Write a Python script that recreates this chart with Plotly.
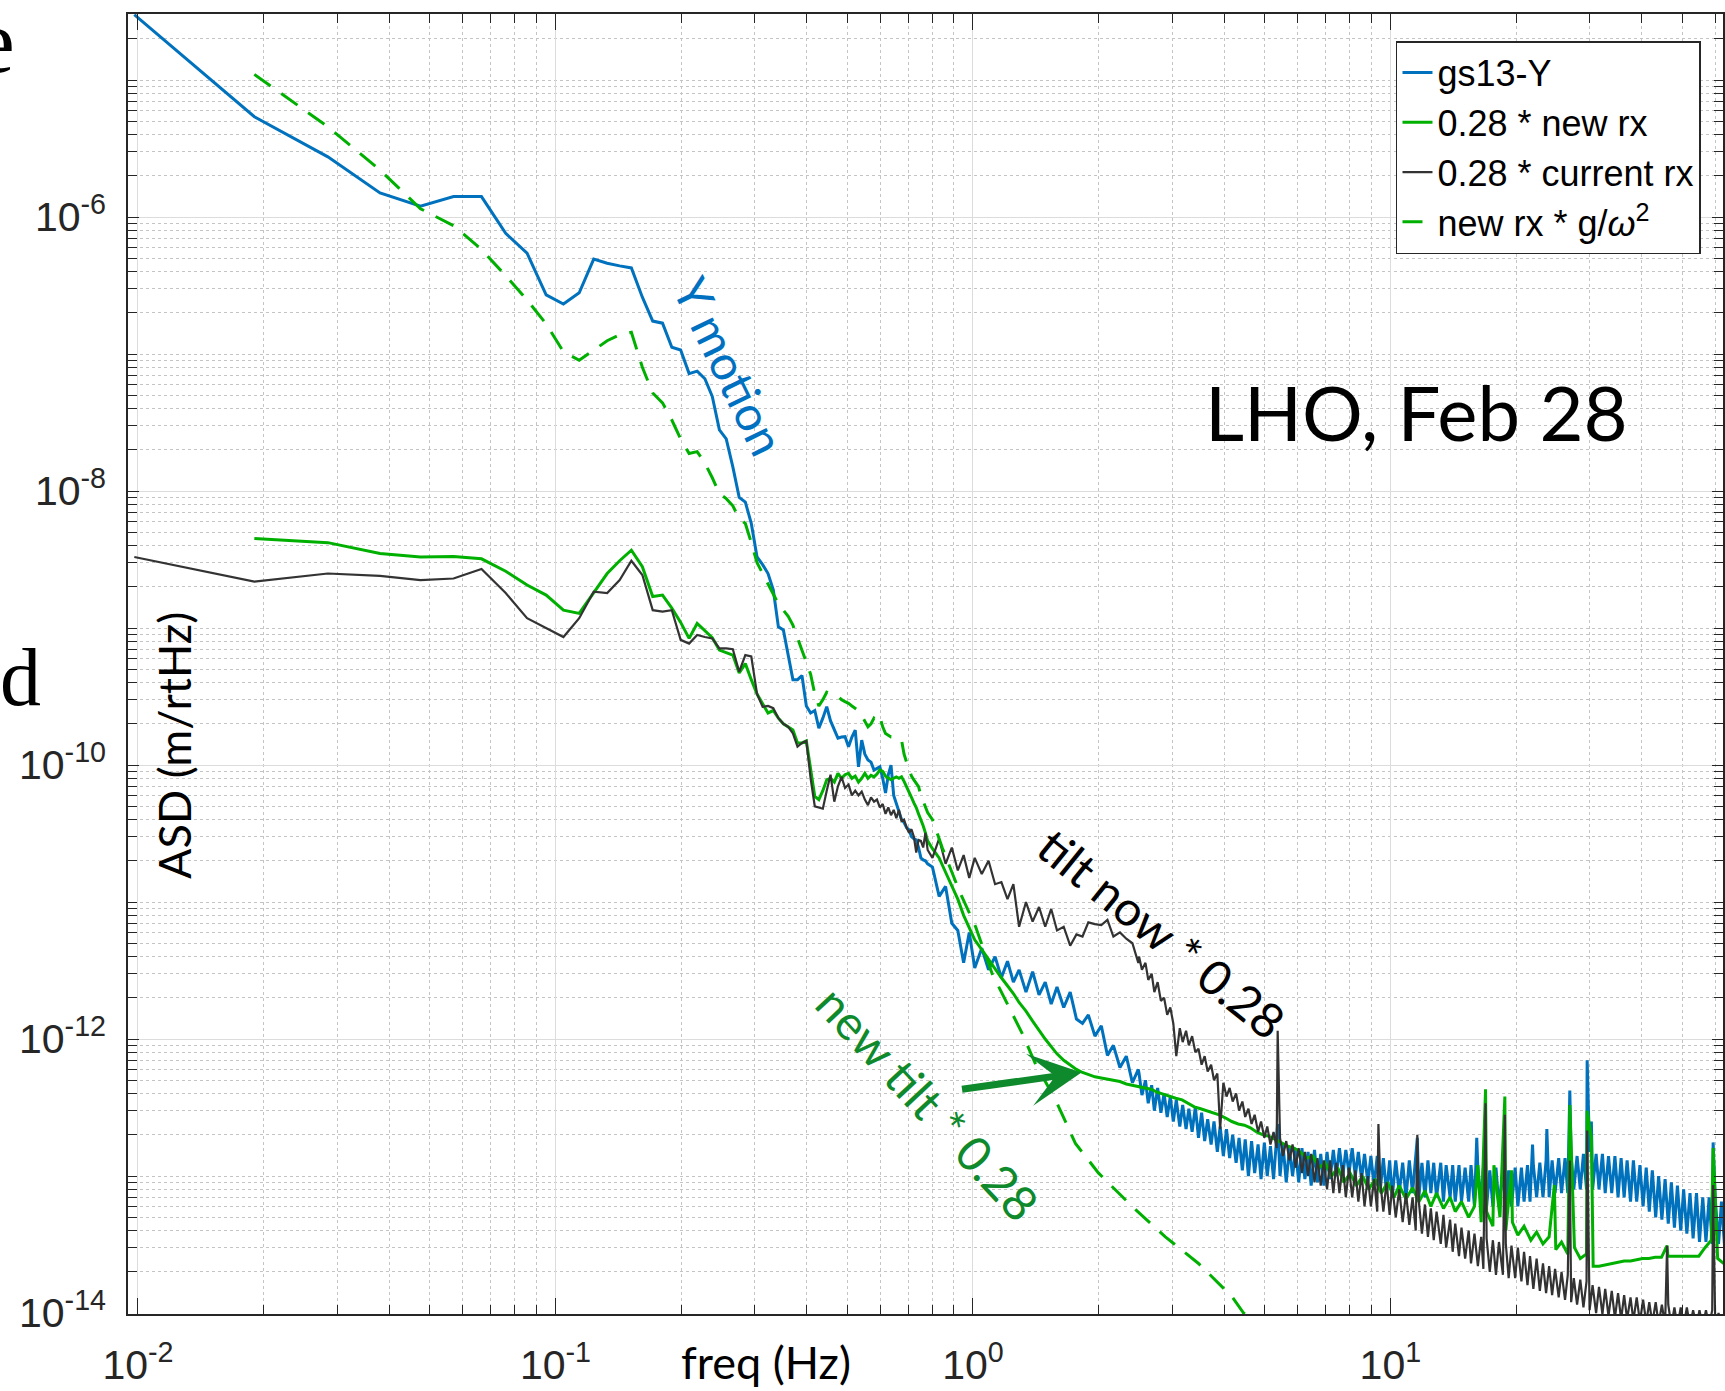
import plotly.graph_objects as go

# ---------------- data ----------------
# low-frequency bins (Hz)
F_LO = [0.0098, 0.019, 0.0285, 0.038, 0.0475, 0.057, 0.0665, 0.076, 0.0855, 0.095,
        0.1045, 0.114, 0.1235, 0.133, 0.1425, 0.152, 0.1615, 0.171, 0.1805, 0.19,
        0.1995, 0.209, 0.2185, 0.228, 0.2375, 0.247, 0.2565, 0.266, 0.2755, 0.285,
        0.2945, 0.304, 0.3135, 0.323, 0.3325, 0.342, 0.3515, 0.361, 0.3705, 0.38,
        0.3895, 0.399, 0.4085, 0.418, 0.4275, 0.437, 0.4465, 0.456, 0.4655, 0.475,
        0.4845, 0.494, 0.5035, 0.513, 0.5225, 0.532, 0.5415, 0.551, 0.5605, 0.57,
        0.5795, 0.589, 0.5985, 0.608, 0.6175, 0.627, 0.6365, 0.646, 0.6555, 0.665,
        0.6745, 0.684, 0.6935, 0.703, 0.7125, 0.722, 0.7315, 0.741, 0.7505, 0.76,
        0.7695, 0.779]

# mid band (Hz), shared by the three measured curves
F_MID = [0.80, 0.83, 0.86, 0.89, 0.92, 0.95, 0.98, 1.01, 1.05, 1.09,
         1.13, 1.17, 1.21, 1.25, 1.29, 1.34, 1.39, 1.44, 1.49, 1.54,
         1.59, 1.65, 1.71, 1.77, 1.83, 1.89, 1.96, 2.03, 2.10, 2.17,
         2.25, 2.33, 2.41, 2.49]

# high band (Hz) for the new-rx curve
F_HI_G = [2.58, 2.67, 2.76, 2.86, 2.96, 3.06,
          3.17, 3.28, 3.39, 3.51, 3.63, 3.76, 3.89, 4.03, 4.17, 4.32,
          4.47, 4.62, 4.78, 4.95, 5.12, 5.30, 5.49, 5.68, 5.88, 6.08,
          6.30, 6.52, 6.75, 6.98, 7.23, 7.48, 7.74, 8.01, 8.29, 8.58,
          8.88, 9.19, 9.51, 9.85, 10.2, 10.5, 10.9, 11.3, 11.7, 12.1,
          12.5, 12.9, 13.4, 13.9, 14.3, 14.8, 15.4, 15.9, 16.5, 17.0,
          17.6, 18.3, 18.9, 19.6, 20.2, 20.9, 21.7, 22.4, 23.2, 24.0,
          24.9, 25.7, 26.6, 27.6, 28.5, 29.5, 30.6, 31.6, 32.7, 33.9,
          35.1, 36.3, 37.6, 38.9, 40.2, 41.6, 43.1, 44.6, 46.2, 47.8,
          49.4, 51.2, 53.0, 54.8, 56.7, 58.7, 60.8, 62.9]

# dense noisy band (Hz) for gs13-Y and current rx
F_NZ = [2.50, 2.54, 2.59, 2.63, 2.68, 2.72, 2.77, 2.82, 2.87, 2.92,
        2.97, 3.02, 3.07, 3.13, 3.18, 3.24, 3.29, 3.35, 3.41, 3.47,
        3.53, 3.59, 3.65, 3.72, 3.78, 3.85, 3.91, 3.98, 4.05, 4.12,
        4.19, 4.27, 4.34, 4.42, 4.49, 4.57, 4.65, 4.73, 4.82, 4.90,
        4.99, 5.07, 5.16, 5.25, 5.34, 5.44, 5.53, 5.63, 5.73, 5.83,
        5.93, 6.03, 6.14, 6.24, 6.35, 6.46, 6.58, 6.69, 6.81, 6.93,
        7.05, 7.17, 7.30, 7.42, 7.55, 7.69, 7.82, 7.96, 8.10, 8.24,
        8.38, 8.53, 8.67, 8.83, 8.98, 9.14, 9.30, 9.46, 9.62, 9.79,
        9.96, 10.1, 10.3, 10.5, 10.7, 10.9, 11.1, 11.3, 11.5, 11.7,
        11.9, 12.1, 12.3, 12.5, 12.7, 12.9, 13.2, 13.4, 13.6, 13.9,
        14.1, 14.3, 14.6, 14.8, 15.1, 15.4, 15.6, 15.9, 16.2, 16.5,
        16.7, 17.0, 17.3, 17.6, 17.9, 18.2, 18.6, 18.9, 19.2, 19.5,
        19.9, 20.2, 20.6, 20.9, 21.3, 21.6, 22.0, 22.4, 22.8, 23.2,
        23.6, 24.0, 24.4, 24.8, 25.3, 25.7, 26.2, 26.6, 27.1, 27.5,
        28.0, 28.5, 29.0, 29.5, 30.0, 30.5, 31.1, 31.6, 32.2, 32.7,
        33.3, 33.9, 34.5, 35.1, 35.7, 36.3, 36.9, 37.6, 38.2, 38.9,
        39.6, 40.3, 41.0, 41.7, 42.4, 43.2, 43.9, 44.7, 45.5, 46.3,
        47.1, 47.9, 48.7, 49.6, 50.4, 51.3, 52.2, 53.1, 54.1, 55.0,
        56.0, 57.0, 58.0, 59.0, 60.0, 61.1, 62.1, 63.2]

# gs13-Y
BLUE_LO = [3.0e-5, 5.4e-6, 2.75e-6, 1.5e-6, 1.2e-6, 1.41e-6, 1.41e-6, 7.6e-7, 5.45e-7, 2.7e-7,
           2.32e-7, 2.8e-7, 4.93e-7, 4.6e-7, 4.4e-7, 4.25e-7, 2.6e-7, 1.74e-7, 1.68e-7, 1.12e-7,
           1.07e-7, 7.2e-8, 7.5e-8, 6.6e-8, 4.9e-8, 2.8e-8, 2.4e-8, 1.5e-8, 9.0e-9, 8.3e-9,
           5.8e-9, 3.3e-9, 2.9e-9, 2.5e-9, 1.9e-9, 1.02e-9, 9.7e-10, 6.5e-10, 4.2e-10, 4.2e-10,
           4.5e-10, 2.7e-10, 2.4e-10, 2.5e-10, 1.86e-10, 2.2e-10, 2.67e-10, 2.1e-10, 1.8e-10, 1.57e-10,
           1.6e-10, 1.61e-10, 1.36e-10, 1.6e-10, 1.8e-10, 9.7e-11, 1.52e-10, 1.2e-10, 1.09e-10, 1.05e-10,
           9.2e-11, 9.5e-11, 9.7e-11, 8.0e-11, 6.25e-11, 8.5e-11, 1.0e-10, 6.0e-11, 5.2e-11, 4.47e-11,
           4.0e-11, 3.8e-11, 3.5e-11, 3.36e-11, 3.0e-11, 2.9e-11, 2.84e-11, 2.5e-11, 2.1e-11, 2.03e-11,
           2.0e-11, 1.9e-11]
BLUE_MID = [1.8e-11, 1.1e-11, 1.3e-11, 7.0e-12, 6.2e-12, 3.6e-12, 6.0e-12, 3.3e-12, 4.6e-12, 3.2e-12,
            4.0e-12, 2.8e-12, 3.7e-12, 2.6e-12, 3.2e-12, 2.2e-12, 3.1e-12, 2.1e-12, 2.6e-12, 1.8e-12,
            2.4e-12, 1.7e-12, 2.2e-12, 1.4e-12, 1.3e-12, 1.5e-12, 1.05e-12, 1.25e-12, 7.6e-13, 9.0e-13,
            6.2e-13, 7.5e-13, 4.8e-13, 6.0e-13]
BLUE_NZ = [5.6e-13, 3.9e-13, 5.0e-13, 3.4e-13, 4.6e-13, 3.0e-13, 4.4e-13, 2.9e-13, 4.0e-13, 2.7e-13,
           3.8e-13, 2.5e-13, 3.6e-13, 2.3e-13, 3.3e-13, 2.2e-13, 3.1e-13, 2.1e-13, 3.2e-13, 1.9e-13,
           2.9e-13, 1.8e-13, 2.6e-13, 1.7e-13, 2.5e-13, 1.5e-13, 2.3e-13, 1.4e-13, 2.2e-13, 1.35e-13,
           2.0e-13, 1.25e-13, 1.9e-13, 1.1e-13, 1.85e-13, 1.0e-13, 1.8e-13, 1.05e-13, 1.7e-13, 9.5e-14,
           1.75e-13, 1.0e-13, 1.65e-13, 9.5e-14, 1.8e-13, 1.0e-13, 1.7e-13, 9.0e-14, 1.6e-13, 1.0e-13,
           1.55e-13, 9.0e-14, 1.6e-13, 9.5e-14, 1.5e-13, 8.5e-14, 1.55e-13, 9.0e-14, 1.45e-13, 8.5e-14,
           1.5e-13, 9.5e-14, 1.55e-13, 1.0e-13, 1.6e-13, 1.0e-13, 1.55e-13, 1.05e-13, 1.6e-13, 1.0e-13,
           1.5e-13, 9.5e-14, 1.45e-13, 9.0e-14, 1.4e-13, 8.5e-14, 1.4e-13, 8.0e-14, 1.35e-13, 7.5e-14,
           1.3e-13, 7.0e-14, 1.3e-13, 7.5e-14, 1.25e-13, 7.0e-14, 1.3e-13, 7.5e-14, 1.3e-13, 7.0e-14,
           1.25e-13, 7.0e-14, 1.3e-13, 7.5e-14, 1.25e-13, 7.0e-14, 1.25e-13, 6.5e-14, 1.2e-13, 7.0e-14,
           1.2e-13, 6.5e-14, 1.2e-13, 6.5e-14, 1.15e-13, 6.5e-14, 1.2e-13, 6.0e-14, 1.15e-13, 6.5e-14,
           1.15e-13, 6.0e-14, 1.1e-13, 6.0e-14, 1.15e-13, 6.0e-14, 1.1e-13, 5.8e-14, 1.1e-13, 6.0e-14,
           1.15e-13, 6.0e-14, 1.15e-13, 6.5e-14, 1.2e-13, 6.5e-14, 1.2e-13, 7.0e-14, 1.25e-13, 7.0e-14,
           1.3e-13, 7.0e-14, 1.3e-13, 7.5e-14, 1.35e-13, 7.5e-14, 1.35e-13, 7.5e-14, 1.4e-13, 8.0e-14,
           1.4e-13, 8.0e-14, 1.45e-13, 8.0e-14, 1.5e-13, 8.0e-14, 1.45e-13, 8.0e-14, 1.45e-13, 7.5e-14,
           1.4e-13, 7.5e-14, 1.4e-13, 7.0e-14, 1.35e-13, 7.0e-14, 1.3e-13, 6.5e-14, 1.3e-13, 6.5e-14,
           1.2e-13, 6.0e-14, 1.15e-13, 5.5e-14, 1.1e-13, 5.0e-14, 1.0e-13, 4.8e-14, 9.5e-14, 4.5e-14,
           9.0e-14, 4.2e-14, 8.5e-14, 4.0e-14, 8.0e-14, 3.8e-14, 7.5e-14, 3.5e-14, 7.5e-14, 3.3e-14,
           7.0e-14, 3.3e-14, 7.0e-14, 3.2e-14, 6.8e-14, 3.2e-14, 6.5e-14, 3.0e-14]
BLUE_SPIKE_F = [5.37, 11.6, 16.1, 21.9, 23.7, 26.9, 29.6, 30.3, 59.3]
BLUE_SPIKE_V = [2.4e-13, 1.9e-13, 1.9e-13, 1.7e-13, 2.2e-13, 4.2e-13, 7.0e-13, 2.5e-13, 1.76e-13]

# 0.28 * new rx
GREEN_LO = [4.5e-9, 4.2e-9, 3.5e-9, 3.3e-9, 3.33e-9, 3.2e-9, 2.6e-9, 2.06e-9, 1.74e-9,
            1.35e-9, 1.28e-9, 1.8e-9, 2.5e-9, 3.1e-9, 3.7e-9, 2.8e-9, 1.7e-9, 1.74e-9, 1.4e-9,
            1.1e-9, 8.4e-10, 1.08e-9, 9.5e-10, 8.5e-10, 6.9e-10, 6.6e-10, 6.35e-10, 4.7e-10, 5.5e-10,
            4.2e-10, 3.3e-10, 2.8e-10, 2.4e-10, 2.5e-10, 2.2e-10, 2.0e-10, 1.9e-10, 1.8e-10, 1.45e-10,
            1.45e-10, 1.5e-10, 9.0e-11, 5.9e-11, 5.6e-11, 6.5e-11, 7.8e-11, 8.0e-11, 7.5e-11, 8.7e-11,
            8.0e-11, 8.5e-11, 8.7e-11, 8.0e-11, 8.3e-11, 7.5e-11, 8.0e-11, 8.7e-11, 8.0e-11, 8.4e-11,
            8.2e-11, 8.6e-11, 9.2e-11, 9.0e-11, 8.3e-11, 8.0e-11, 7.8e-11, 8.0e-11, 8.2e-11, 8.0e-11,
            8.2e-11, 7.6e-11, 7.0e-11, 6.4e-11, 5.8e-11, 5.3e-11, 4.9e-11, 4.4e-11, 4.0e-11, 3.6e-11,
            3.2e-11, 2.8e-11]
GREEN_MID = [2.45e-11, 2.1e-11, 1.65e-11, 1.3e-11, 1.05e-11, 8.0e-12, 6.5e-12, 5.3e-12, 4.5e-12, 3.8e-12,
             3.3e-12, 2.8e-12, 2.45e-12, 2.15e-12, 1.85e-12, 1.6e-12, 1.35e-12, 1.15e-12, 1.0e-12, 8.8e-13,
             7.8e-13, 7.0e-13, 6.5e-13, 6.0e-13, 5.7e-13, 5.5e-13, 5.3e-13, 5.2e-13, 5.1e-13, 5.0e-13,
             4.9e-13, 4.7e-13, 4.6e-13, 4.5e-13]
GREEN_HI = [4.4e-13, 4.3e-13, 4.1e-13, 3.95e-13, 3.8e-13, 3.7e-13,
            3.6e-13, 3.4e-13, 3.2e-13, 3.1e-13, 3.0e-13, 2.9e-13, 2.8e-13, 2.65e-13, 2.5e-13, 2.4e-13,
            2.35e-13, 2.25e-13, 2.1e-13, 2.0e-13, 1.95e-13, 1.85e-13, 1.75e-13, 1.65e-13, 1.6e-13, 1.5e-13,
            1.35e-13, 1.4e-13, 1.15e-13, 1.25e-13, 1.0e-13, 1.15e-13, 9.0e-14, 1.05e-13, 8.5e-14, 1.0e-13,
            8.0e-14, 9.5e-14, 7.5e-14, 9.0e-14, 7.0e-14, 8.5e-14, 6.8e-14, 8.2e-14, 6.5e-14, 7.8e-14,
            6.0e-14, 7.5e-14, 5.8e-14, 7.0e-14, 5.5e-14, 6.5e-14, 5.0e-14, 6.0e-14, 4.6e-14, 5.5e-14,
            4.3e-14, 5.0e-14, 4.0e-14, 4.6e-14, 3.7e-14, 4.3e-14, 3.4e-14, 3.9e-14, 3.2e-14, 3.6e-14,
            2.9e-14, 3.3e-14, 2.7e-14, 3.0e-14, 2.5e-14, 2.7e-14, 2.2e-14, 2.2e-14, 2.25e-14, 2.3e-14,
            2.35e-14, 2.4e-14, 2.4e-14, 2.45e-14, 2.5e-14, 2.5e-14, 2.55e-14, 2.55e-14, 2.6e-14, 2.6e-14,
            2.6e-14, 2.6e-14, 2.6e-14, 2.6e-14, 3.0e-14, 3.4e-14, 2.5e-14, 2.3e-14]
GREEN_SPIKE_F = [16.2, 16.9, 17.7, 18.8, 19.5, 24.7, 26.9, 29.6, 30.3, 46.0, 59.3]
GREEN_SPIKE_V = [1.2e-13, 4.3e-13, 1.2e-13, 3.8e-13, 1.1e-13, 8.6e-14, 3.3e-13, 3.0e-13, 1.9e-13, 3.1e-14, 1.6e-13]

# 0.28 * current rx
BLACK_LO = [3.3e-9, 2.18e-9, 2.5e-9, 2.4e-9, 2.24e-9, 2.3e-9, 2.7e-9, 1.8e-9, 1.18e-9, 1.0e-9,
            8.6e-10, 1.18e-9, 1.84e-9, 1.8e-9, 2.24e-9, 3.1e-9, 2.44e-9, 1.35e-9, 1.32e-9, 1.35e-9,
            8.2e-10, 7.7e-10, 8.9e-10, 8.6e-10, 8.4e-10, 7.1e-10, 7.1e-10, 7.0e-10, 4.8e-10, 6.35e-10,
            6.2e-10, 3.3e-10, 2.66e-10, 2.7e-10, 2.6e-10, 2.2e-10, 2.0e-10, 1.9e-10, 1.7e-10, 1.36e-10,
            1.45e-10, 1.5e-10, 8.0e-11, 5.0e-11, 4.9e-11, 4.8e-11, 6.5e-11, 8.5e-11, 5.4e-11, 7.0e-11,
            8.2e-11, 6.8e-11, 7.2e-11, 6.0e-11, 6.5e-11, 6.0e-11, 6.4e-11, 5.6e-11, 5.1e-11, 5.8e-11,
            5.4e-11, 5.6e-11, 4.9e-11, 5.2e-11, 4.4e-11, 4.9e-11, 4.3e-11, 4.7e-11, 4.1e-11, 4.7e-11,
            3.9e-11, 4.0e-11, 3.5e-11, 3.2e-11, 3.4e-11, 3.0e-11, 2.3e-11, 2.84e-11, 2.8e-11, 2.5e-11,
            3.2e-11, 2.4e-11]
BLACK_MID = [2.1e-11, 2.9e-11, 1.9e-11, 2.5e-11, 1.7e-11, 2.2e-11, 1.5e-11, 2.1e-11, 1.6e-11, 2.0e-11,
             1.35e-11, 1.4e-11, 1.05e-11, 1.35e-11, 6.6e-12, 1.0e-11, 7.2e-12, 9.2e-12, 6.6e-12, 8.9e-12,
             6.2e-12, 6.6e-12, 4.8e-12, 5.8e-12, 5.6e-12, 7.1e-12, 6.9e-12, 6.8e-12, 7.4e-12, 5.6e-12,
             6.0e-12, 5.4e-12, 5.0e-12, 3.6e-12]
BLACK_NZ = [4.0e-12, 3.2e-12, 3.6e-12, 2.7e-12, 3.0e-12, 2.2e-12, 2.6e-12, 1.9e-12, 2.0e-12, 1.5e-12,
            1.7e-12, 1.3e-12, 7.5e-13, 1.2e-12, 9.5e-13, 1.15e-12, 9.0e-13, 1.05e-12, 8.0e-13, 8.5e-13,
            6.5e-13, 7.5e-13, 5.8e-13, 6.5e-13, 5.0e-13, 5.6e-13, 2.2e-13, 4.8e-13, 3.8e-13, 4.4e-13,
            3.5e-13, 4.0e-13, 3.0e-13, 3.5e-13, 2.7e-13, 3.1e-13, 2.4e-13, 2.8e-13, 2.1e-13, 2.5e-13,
            1.9e-13, 2.3e-13, 1.7e-13, 2.1e-13, 1.6e-13, 1.9e-13, 1.4e-13, 1.8e-13, 1.3e-13, 1.7e-13,
            1.15e-13, 1.6e-13, 1.05e-13, 1.5e-13, 1.0e-13, 1.45e-13, 9.0e-14, 1.35e-13, 8.5e-14, 1.3e-13,
            8.0e-14, 1.3e-13, 7.5e-14, 1.25e-13, 7.5e-14, 1.2e-13, 7.0e-14, 1.15e-13, 7.0e-14, 1.1e-13,
            6.5e-14, 1.05e-13, 6.0e-14, 1.0e-13, 6.0e-14, 9.5e-14, 5.5e-14, 9.0e-14, 5.5e-14, 9.0e-14,
            5.2e-14, 8.5e-14, 5.0e-14, 8.0e-14, 4.6e-14, 7.5e-14, 4.4e-14, 7.0e-14, 4.0e-14, 6.5e-14,
            3.8e-14, 6.2e-14, 3.6e-14, 5.8e-14, 3.4e-14, 5.5e-14, 3.2e-14, 5.2e-14, 3.0e-14, 4.8e-14,
            2.8e-14, 4.5e-14, 2.6e-14, 4.2e-14, 2.5e-14, 4.0e-14, 2.3e-14, 3.8e-14, 2.2e-14, 3.6e-14,
            2.1e-14, 3.5e-14, 2.0e-14, 3.4e-14, 1.9e-14, 3.3e-14, 1.9e-14, 3.2e-14, 1.8e-14, 3.1e-14,
            1.8e-14, 3.0e-14, 1.7e-14, 2.8e-14, 1.6e-14, 2.6e-14, 1.5e-14, 2.5e-14, 1.45e-14, 2.3e-14,
            1.4e-14, 2.2e-14, 1.35e-14, 2.1e-14, 1.3e-14, 2.0e-14, 1.25e-14, 1.9e-14, 1.2e-14, 1.8e-14,
            1.15e-14, 1.75e-14, 1.1e-14, 1.7e-14, 1.05e-14, 1.6e-14, 1.0e-14, 1.55e-14, 9.8e-15, 1.5e-14,
            9.5e-15, 1.45e-14, 9.2e-15, 1.4e-14, 9.0e-15, 1.35e-14, 9.0e-15, 1.3e-14, 8.8e-15, 1.3e-14,
            8.6e-15, 1.25e-14, 8.5e-15, 1.2e-14, 8.4e-15, 1.2e-14, 8.3e-15, 1.15e-14, 8.2e-15, 1.15e-14,
            8.1e-15, 1.1e-14, 8.0e-15, 1.1e-14, 8.0e-15, 1.1e-14, 8.0e-15, 1.05e-14, 8.0e-15, 1.05e-14,
            8.0e-15, 1.05e-14, 8.0e-15, 1.05e-14, 8.0e-15, 1.0e-14, 8.0e-15, 1.0e-14]
BLACK_SPIKE_F = [5.37, 9.36, 11.6, 16.9, 18.8, 26.9, 29.6, 46.0, 59.3]
BLACK_SPIKE_V = [1.15e-12, 2.4e-13, 2.0e-13, 3.4e-13, 2.8e-13, 1.3e-13, 2.15e-13, 3.1e-14, 8.6e-14]

# new rx * g/w^2 (dashed)
DASH_LO = [1.1e-5, 4.56e-6, 2.2e-6, 1.15e-6, 8.65e-7, 5.8e-7, 3.73e-7, 2.48e-7, 1.66e-7,
           1.04e-7, 9.0e-8, 1.07e-7, 1.25e-7, 1.38e-7, 1.44e-7, 8.0e-8, 5.2e-8, 4.4e-8, 3.3e-8,
           2.4e-8, 1.88e-8, 1.94e-8, 1.6e-8, 1.25e-8, 9.6e-9, 8.8e-9, 7.8e-9, 6.3e-9, 5.8e-9,
           4.2e-9, 3.0e-9, 2.5e-9, 2.1e-9, 1.8e-9, 1.5e-9, 1.35e-9, 1.22e-9, 1.05e-9, 8.5e-10,
           6.8e-10, 5.5e-10, 4.6e-10, 3.3e-10, 2.7e-10, 3.0e-10, 3.4e-10, 3.3e-10, 3.2e-10, 3.16e-10,
           3.0e-10, 2.9e-10, 2.82e-10, 2.7e-10, 2.6e-10, 2.5e-10, 2.3e-10, 2.1e-10, 1.9e-10, 2.0e-10,
           2.2e-10, 2.1e-10, 2.25e-10, 1.9e-10, 1.7e-10, 1.65e-10, 1.6e-10, 1.6e-10, 1.55e-10, 1.52e-10,
           1.52e-10, 1.2e-10, 1.05e-10, 9.2e-11, 8.3e-11, 7.8e-11, 7.3e-11, 6.95e-11, 6.0e-11, 5.5e-11,
           5.0e-11, 4.5e-11]
DASH_TAIL_F = [0.80, 0.844, 0.926, 1.015, 1.112, 1.22, 1.312, 1.41, 1.577, 1.76,
               2.0, 2.41, 2.89, 3.47, 4.17, 4.45, 5.0]
DASH_TAIL_V = [4.0e-11, 2.5e-11, 1.22e-11, 6.6e-12, 3.0e-12, 1.72e-12, 1.1e-12, 6.65e-13, 3.6e-13, 1.73e-13,
               1.05e-13, 5.97e-14, 3.6e-14, 2.3e-14, 1.32e-14, 1.0e-14, 7.5e-15]

X_TICKS = [0.01, 0.1, 1, 10]
X_TICKTEXT = ["10<sup>-2</sup>", "10<sup>-1</sup>", "10<sup>0</sup>", "10<sup>1</sup>"]
Y_TICKS = [1e-14, 1e-12, 1e-10, 1e-8, 1e-6]
Y_TICKTEXT = ["10<sup>-14</sup>", "10<sup>-12</sup>", "10<sup>-10</sup>", "10<sup>-8</sup>", "10<sup>-6</sup>"]

assert len(BLUE_LO) == len(F_LO) and len(BLACK_LO) == len(F_LO)
assert len(GREEN_LO) == len(F_LO) - 1 and len(DASH_LO) == len(F_LO) - 1
assert len(BLUE_MID) == len(F_MID) and len(GREEN_MID) == len(F_MID) and len(BLACK_MID) == len(F_MID)
assert len(GREEN_HI) == len(F_HI_G)
assert len(BLUE_NZ) == len(F_NZ) and len(BLACK_NZ) == len(F_NZ)
assert len(DASH_TAIL_F) == len(DASH_TAIL_V)


def merge(fs, vs):
    pairs = sorted(zip(fs, vs))
    return [p[0] for p in pairs], [p[1] for p in pairs]


blue_x, blue_y = merge(F_LO + F_MID + F_NZ + BLUE_SPIKE_F,
                       BLUE_LO + BLUE_MID + BLUE_NZ + BLUE_SPIKE_V)
green_x, green_y = merge(F_LO[1:] + F_MID + F_HI_G + GREEN_SPIKE_F,
                         GREEN_LO + GREEN_MID + GREEN_HI + GREEN_SPIKE_V)
black_x, black_y = merge(F_LO + F_MID + F_NZ + BLACK_SPIKE_F,
                         BLACK_LO + BLACK_MID + BLACK_NZ + BLACK_SPIKE_V)
dash_x, dash_y = merge(F_LO[1:] + DASH_TAIL_F, DASH_LO + DASH_TAIL_V)

BLUE = "#0072BD"
GREEN = "#00B000"
BLACK = "#333333"
DARKGREEN = "#0E8A2C"
AXC = "#262626"

fig = go.Figure()
fig.add_trace(go.Scatter(x=blue_x, y=blue_y, mode="lines", name="gs13-Y",
                         line=dict(color=BLUE, width=3)))
fig.add_trace(go.Scatter(x=green_x, y=green_y, mode="lines", name="0.28 * new rx",
                         line=dict(color=GREEN, width=3)))
fig.add_trace(go.Scatter(x=black_x, y=black_y, mode="lines", name="0.28 * current rx",
                         line=dict(color=BLACK, width=2.2)))
fig.add_trace(go.Scatter(x=dash_x, y=dash_y, mode="lines", name="new rx * g/<i>ω</i><sup>2</sup>",
                         line=dict(color=GREEN, width=3, dash="20px,13px")))

# minor tick positions
x_minor = []
for e in range(-3, 3):
    for m in range(2, 10):
        x_minor.append(m * 10.0 ** e)
y_minor = []
for e in range(-15, -3):
    for m in range(1, 10):
        if m == 1 and e % 2 == 0:
            continue
        y_minor.append(m * 10.0 ** e)

W, H = 1725, 1391
L, R, T, B = 128, 0, 14, 77
PW, PH = W - L - R, H - T - B

fig.update_layout(
    width=W, height=H,
    margin=dict(l=L, r=R, t=T, b=B),
    paper_bgcolor="white", plot_bgcolor="white",
    font=dict(family="Liberation Sans, Arial", color=AXC),
    showlegend=True,
    legend=dict(x=0.9862, y=0.9792, xanchor="right", yanchor="top",
                bgcolor="white", bordercolor=AXC, borderwidth=1.5,
                font=dict(family="Liberation Sans, Arial", size=36, color="black"),
                tracegroupgap=0),
    xaxis=dict(type="log", range=[-2.0239, 1.7967],
               showline=True, linecolor=AXC, linewidth=1.5, mirror="ticks",
               ticks="inside", ticklen=16, tickwidth=1.2, tickcolor=AXC,
               tickvals=X_TICKS, ticktext=X_TICKTEXT,
               tickfont=dict(family="Liberation Sans, Arial", size=41, color=AXC),
               ticklabelstandoff=14,
               showgrid=True, gridcolor="#dcdcdc", gridwidth=1, zeroline=False,
               minor=dict(tickvals=x_minor, ticks="inside", ticklen=9, tickwidth=1.2,
                          tickcolor=AXC, showgrid=True, gridcolor="#c4c4c4",
                          griddash="dot", gridwidth=1)),
    yaxis=dict(type="log", range=[-14.007, -4.518],
               showline=True, linecolor=AXC, linewidth=1.5, mirror="ticks",
               ticks="inside", ticklen=11, tickwidth=1.2, tickcolor=AXC,
               tickvals=Y_TICKS, ticktext=Y_TICKTEXT,
               tickfont=dict(family="Liberation Sans, Arial", size=41, color=AXC),
               ticklabelstandoff=12,
               showgrid=True, gridcolor="#dcdcdc", gridwidth=1, zeroline=False,
               minor=dict(tickvals=y_minor, ticks="inside", ticklen=9, tickwidth=1.2,
                          tickcolor=AXC, showgrid=True, gridcolor="#c4c4c4",
                          griddash="dot", gridwidth=1)),
)

ANN_FONT = "Lato, Open Sans, sans-serif"
annotations = [
    dict(x=-0.5813, y=-7.0876, xref="x", yref="y", text="Y motion", showarrow=False,
         textangle=64, font=dict(family=ANN_FONT, size=48, color="#0070C0")),
    dict(x=1.0622, y=-7.416, xref="x", yref="y", text="LHO, Feb 28", showarrow=False,
         font=dict(family=ANN_FONT, size=76, color="black")),
    dict(x=0.4545, y=-11.226, xref="x", yref="y", text="tilt now * 0.28", showarrow=False,
         textangle=39, font=dict(family=ANN_FONT, size=48, color="black")),
    dict(x=-0.1053, y=-12.467, xref="x", yref="y", text="new tilt * 0.28", showarrow=False,
         textangle=47, font=dict(family=ANN_FONT, size=48, color=DARKGREEN)),
    dict(x=0.2601, y=-12.244, xref="x", yref="y", text="", showarrow=True,
         ax=-121, ay=17, axref="pixel", ayref="pixel",
         arrowhead=3, arrowwidth=7, arrowsize=1.25, arrowcolor=DARKGREEN),
    dict(x=(767 - L) / PW, y=1 - (1362 - T) / PH, xref="paper", yref="paper",
         xanchor="center", yanchor="middle",
         text="freq (Hz)", showarrow=False,
         font=dict(family=ANN_FONT, size=45, color="black")),
    dict(x=(174 - L) / PW, y=1 - (745 - T) / PH, xref="paper", yref="paper",
         xanchor="center", yanchor="middle",
         text="ASD (m/rtHz)", showarrow=False, textangle=-90,
         font=dict(family=ANN_FONT, size=45, color="black")),
    dict(x=(17 - L) / PW, y=1 - (41 - T) / PH, xref="paper", yref="paper",
         text="e", showarrow=False, xanchor="right", yanchor="middle",
         font=dict(family="Liberation Serif, Times New Roman, serif", size=92, color="black")),
    dict(x=(43 - L) / PW, y=1 - (677 - T) / PH, xref="paper", yref="paper",
         text="nd", showarrow=False, xanchor="right", yanchor="middle",
         font=dict(family="Liberation Serif, Times New Roman, serif", size=82, color="black")),
]
fig.update_layout(annotations=annotations)

fig.write_html("out.html", config={"displayModeBar": False},
               post_script="document.body.style.margin='0';")
